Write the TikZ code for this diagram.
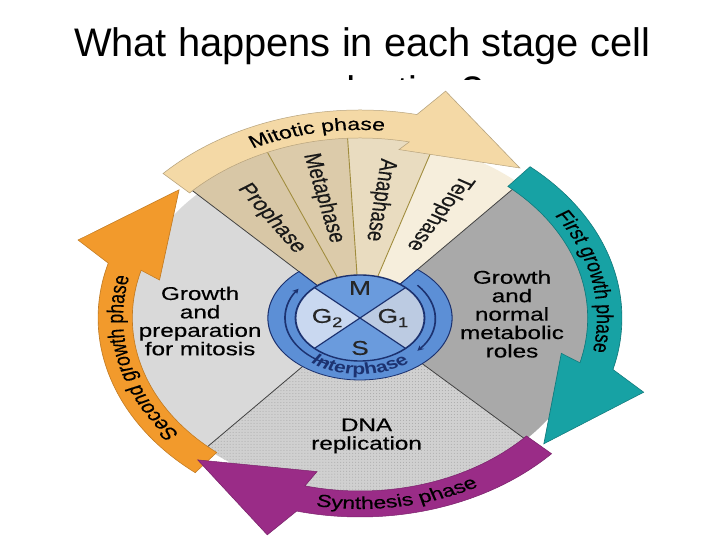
\documentclass[tikz,border=0pt]{standalone}
\usepackage{fontspec}
\setmainfont{Liberation Sans}
\newfontfamily\heavyfont[FakeBold=0.35]{Liberation Sans}
\usetikzlibrary{decorations.text,arrows.meta,patterns}
\definecolor{orng}{HTML}{F29A2C}
\definecolor{tealc}{HTML}{17A2A4}
\definecolor{purp}{HTML}{9A2C87}
\definecolor{tanband}{HTML}{F4D9A6}
\definecolor{proc}{HTML}{D8C7A6}
\definecolor{metc}{HTML}{DCCBAA}
\definecolor{anac}{HTML}{E9DCC0}
\definecolor{telc}{HTML}{F6EEDC}
\definecolor{gtwo}{HTML}{D9D9D9}
\definecolor{sgrey}{HTML}{D0D0D0}
\definecolor{sdot}{HTML}{A8A8A8}
\definecolor{gone}{HTML}{A9A9A9}
\definecolor{ringb}{HTML}{5C8FD6}
\definecolor{mblue}{HTML}{6A9BDD}
\definecolor{gtwob}{HTML}{C9D8F0}
\definecolor{goneb}{HTML}{BCCBE2}
\definecolor{navy}{HTML}{1C3270}
\definecolor{olivec}{HTML}{A08C3C}
% #1 style, #2 tail angle, #3 tip angle, #4 inner r, #5 outer r, #6 inner barb r, #7 outer barb r, #8 tip r
\newcommand\bandarrow[8]{%
  \path[#1] (#2:#4) arc[start angle=#2, end angle={#3+27}, radius=#4]
    -- ({#3+29}:#6) -- (#3:#8) -- ({#3+23}:#7) -- ({#3+27}:#5)
    arc[start angle={#3+27}, end angle=#2, radius=#5] -- cycle;}
\begin{document}
\begin{tikzpicture}[x=1bp,y=1bp,
  sectorline/.style={draw=black!75, line width=0.7},
  wedgeline/.style={draw=olivec, line width=0.7},
  seclabel/.style={align=center, font=\heavyfont\fontsize{18.5}{18.5}\selectfont, inner sep=0pt},
  wedgelabel/.style={font=\heavyfont\fontsize{18.5}{20}\selectfont, inner sep=0pt, text=black!90},
  cellabel/.style={font=\heavyfont\fontsize{20}{22}\selectfont, inner sep=0pt, text=black!85},
  bandtext/.style={decorate, decoration={text along path, text align=center,
      text={|\heavyfont\fontsize{17.5}{20}\selectfont|#1}}},
  titlefont/.style={font=\fontsize{40}{48}\selectfont, anchor=base, inner sep=0pt}
]
\useasboundingbox (0,0) rectangle (720,540);
\fill[white] (0,0) rectangle (720,540);
% title
\node[titlefont] (title2) at (362,435) {reproduction?};
\fill[white] (0,0) rectangle (720,460);
\node[titlefont] (title1) at (362,483) {What happens in each stage cell};

\begin{scope}[transform canvas={shift={(360,222)},xscale=1.316}]
  % wheel sectors
  \fill[gtwo] (0,0) -- (135:175) arc[start angle=135,end angle=228,radius=175] -- cycle;
  \fill[sgrey] (0,0) -- (228:175) arc[start angle=228,end angle=316,radius=175] -- cycle;
  \fill[pattern=dots, pattern color=sdot] (0,0) -- (228:175) arc[start angle=228,end angle=316,radius=175] -- cycle;
  \fill[gone] (0,0) -- (316:175) arc[start angle=316,end angle=408,radius=175] -- cycle;
  % mitotic wedges
  \fill[proc] (0,0) -- (113:181) arc[start angle=113,end angle=135,radius=181] -- cycle;
  \fill[metc] (0,0) -- (93:181) arc[start angle=93,end angle=113,radius=181] -- cycle;
  \fill[anac] (0,0) -- (72:181) arc[start angle=72,end angle=93,radius=181] -- cycle;
  \fill[telc] (0,0) -- (48:181) arc[start angle=48,end angle=72,radius=181] -- cycle;
  \path[wedgeline] (0,0) -- (113:181) (0,0) -- (93:181) (0,0) -- (72:181);
  \path[sectorline] (0,0) -- (135:181) (0,0) -- (228:175) (0,0) -- (316:175) (0,0) -- (48:181);

  % arrows
  \bandarrow{fill=orng, draw=orng!80!black, line width=0.5}{231}{137}{173}{199}{157}{228}{188}
  \bandarrow{fill=purp, draw=purp!80!black, line width=0.5}{317}{229}{173}{199}{157}{228}{188}
  \bandarrow{fill=tealc, draw=tealc!75!black, line width=0.5}{49.5}{-42}{173}{199}{157}{228}{188}
  \bandarrow{fill=tanband, draw=tanband!75!black, line width=0.5}{136}{51}{180}{208}{171}{236}{193}

  % band texts
  \path[bandtext={Mitotic phase}] (140:188) arc[start angle=140,end angle=60,radius=188];
  \path[bandtext={First growth phase}] (40:180) arc[start angle=40,end angle=-16,radius=180];
  \path[bandtext={Second growth phase}] (225:180) arc[start angle=225,end angle=162,radius=180];
  \path[bandtext={Synthesis phase}] (250:191) arc[start angle=250,end angle=308,radius=191];

  % sector labels
  \node[seclabel] (lg2) at (-121.5,-3) {Growth\\and\\preparation\\for mitosis};
  \node[seclabel] (lg1) at (115.5,4) {Growth\\and\\normal\\metabolic\\roles};
  \node[seclabel] (ls) at (5,-118) {DNA\\replication};

  % wedge labels
  \node[wedgelabel, rotate=-56] (pro) at (124:120) {Prophase};
  \node[wedgelabel, rotate=-77] (met) at (103:123) {Metaphase};
  \node[wedgelabel, rotate=-97.5] (ana) at (82.5:119) {Anaphase};
  \node[wedgelabel, rotate=-120] (tel) at (60:121) {Telophase};

  % center ring
  \path[fill=ringb, draw=navy, line width=0.8] (0,0) -- (131.5:70 and 62)
     arc[start angle=131.5,end angle=411.4,x radius=70,y radius=62] -- cycle;
  \draw[navy, line width=1.3, -{Stealth[length=5pt,width=5pt]}] (245:57 and 51)
     arc[start angle=245,end angle=145,x radius=57,y radius=51];
  \draw[navy, line width=1.3, -{Stealth[length=5pt,width=5pt]}] (40:57 and 51)
     arc[start angle=40,end angle=-40,x radius=57,y radius=51];
  \path[decorate, decoration={text along path, text align=center,
     text={|\fontsize{16}{18}\selectfont\bfseries\color{navy}|Interphase}}]
     (212:61 and 56.5) arc[start angle=212,end angle=328,x radius=61,y radius=56.5];
  % inner cycle
  \fill[mblue] (0,0) -- (45:49 and 43) arc[start angle=45,end angle=135,x radius=49,y radius=43] -- cycle;
  \fill[gtwob] (0,0) -- (135:49 and 43) arc[start angle=135,end angle=225,x radius=49,y radius=43] -- cycle;
  \fill[mblue] (0,0) -- (225:49 and 43) arc[start angle=225,end angle=315,x radius=49,y radius=43] -- cycle;
  \fill[goneb] (0,0) -- (315:49 and 43) arc[start angle=315,end angle=405,x radius=49,y radius=43] -- cycle;
  \draw[navy, line width=1.1] (45:49 and 43) -- (225:49 and 43) (135:49 and 43) -- (315:49 and 43);
  \draw[navy, line width=1.4] (0,0) ellipse[x radius=49, y radius=43];
  \node[cellabel] (lm) at (0,30) {M};
  \node[cellabel] (lgg2) at (-25,0) {G\raisebox{-0.4ex}{\fontsize{14}{14}\selectfont 2}};
  \node[cellabel] (lgg1) at (25,0) {G\raisebox{-0.4ex}{\fontsize{14}{14}\selectfont 1}};
  \node[cellabel] (lss) at (0,-30) {S};
\end{scope}
\end{tikzpicture}
\end{document}
